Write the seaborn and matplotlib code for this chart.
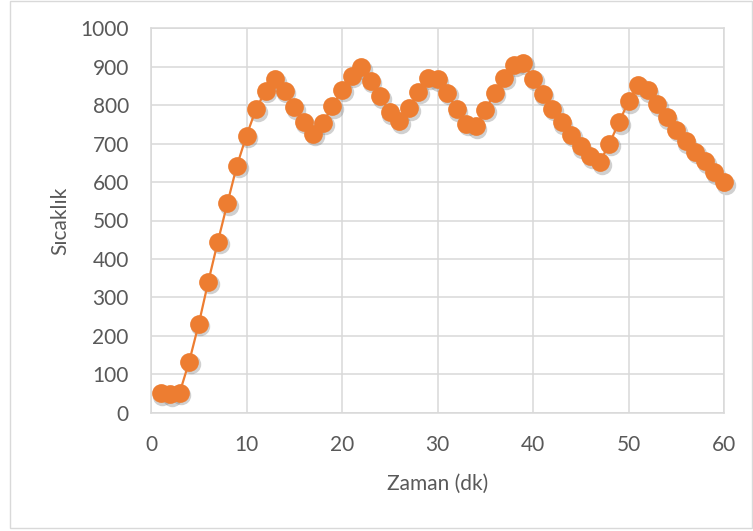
import matplotlib
matplotlib.use("Agg")
import matplotlib.pyplot as plt
from matplotlib.transforms import ScaledTranslation
from matplotlib.patches import Rectangle
import seaborn as sns
import pandas as pd

minutes = list(range(1, 61))
temperature = [50, 48, 52, 133, 231, 341, 445, 545, 643, 721,
               790, 838, 868, 838, 795, 757, 726, 754, 797, 840,
               877, 899, 864, 823, 781, 758, 792, 835, 871, 867,
               832, 790, 752, 745, 788, 832, 872, 905, 911, 869,
               830, 791, 756, 723, 693, 667, 652, 700, 755, 810,
               853, 839, 803, 768, 736, 706, 679, 654, 626, 600]
x_ticks = [0, 10, 20, 30, 40, 50, 60]
y_ticks = list(range(0, 1001, 100))
x_label = "Zaman (dk)"
y_label = "Sıcaklık"

df = pd.DataFrame({"t": minutes, "temp": temperature})

sns.set_theme(style="white")
plt.rcParams['font.family'] = ['Lato', 'DejaVu Sans']

fig = plt.figure(figsize=(7.53, 5.31), dpi=100)
ax = fig.add_axes([151 / 753, 1 - 412.7 / 531, (724 - 151) / 753, (412.7 - 28.3) / 531])

orange = "#ED7D31"
# soft shadow under markers
sns.lineplot(data=df, x="t", y="temp", ax=ax, color="#7a7a7a", linestyle="",
             marker="o", markersize=14, markeredgewidth=0, alpha=0.35,
             clip_on=False, zorder=2)
shadow = ax.lines[-1]
shadow.set_transform(ax.transData + ScaledTranslation(1.2 / 72, -1.8 / 72, fig.dpi_scale_trans))

sns.lineplot(data=df, x="t", y="temp", ax=ax, color=orange, linewidth=1.6,
             marker="o", markersize=13.5, markeredgewidth=0, markerfacecolor=orange,
             clip_on=False, zorder=3)

ax.set_xlim(0, 60)
ax.set_ylim(0, 1000)
ax.set_xticks(x_ticks)
ax.set_yticks(y_ticks)
ax.grid(True, color="#d9d9d9", linewidth=1.1)
ax.set_axisbelow(True)
for s in ax.spines.values():
    s.set_color("#d9d9d9")
    s.set_linewidth(1.1)
ax.tick_params(axis="both", length=0, labelsize=15, labelcolor="#595959")
ax.tick_params(axis="x", pad=16)
ax.tick_params(axis="y", pad=16)
ax.set_xlabel(x_label, fontsize=15, color="#595959", labelpad=13.5)
ax.set_ylabel(y_label, fontsize=15, color="#595959", labelpad=7)

fig.patches.append(Rectangle((9.5 / 753, 1 - 527.7 / 531), (752 - 9.5) / 753, (527.7 - 0.5) / 531,
                             transform=fig.transFigure, fill=False, edgecolor="#d9d9d9",
                             linewidth=1.0, zorder=0))

fig.savefig("out.png", dpi=100)
